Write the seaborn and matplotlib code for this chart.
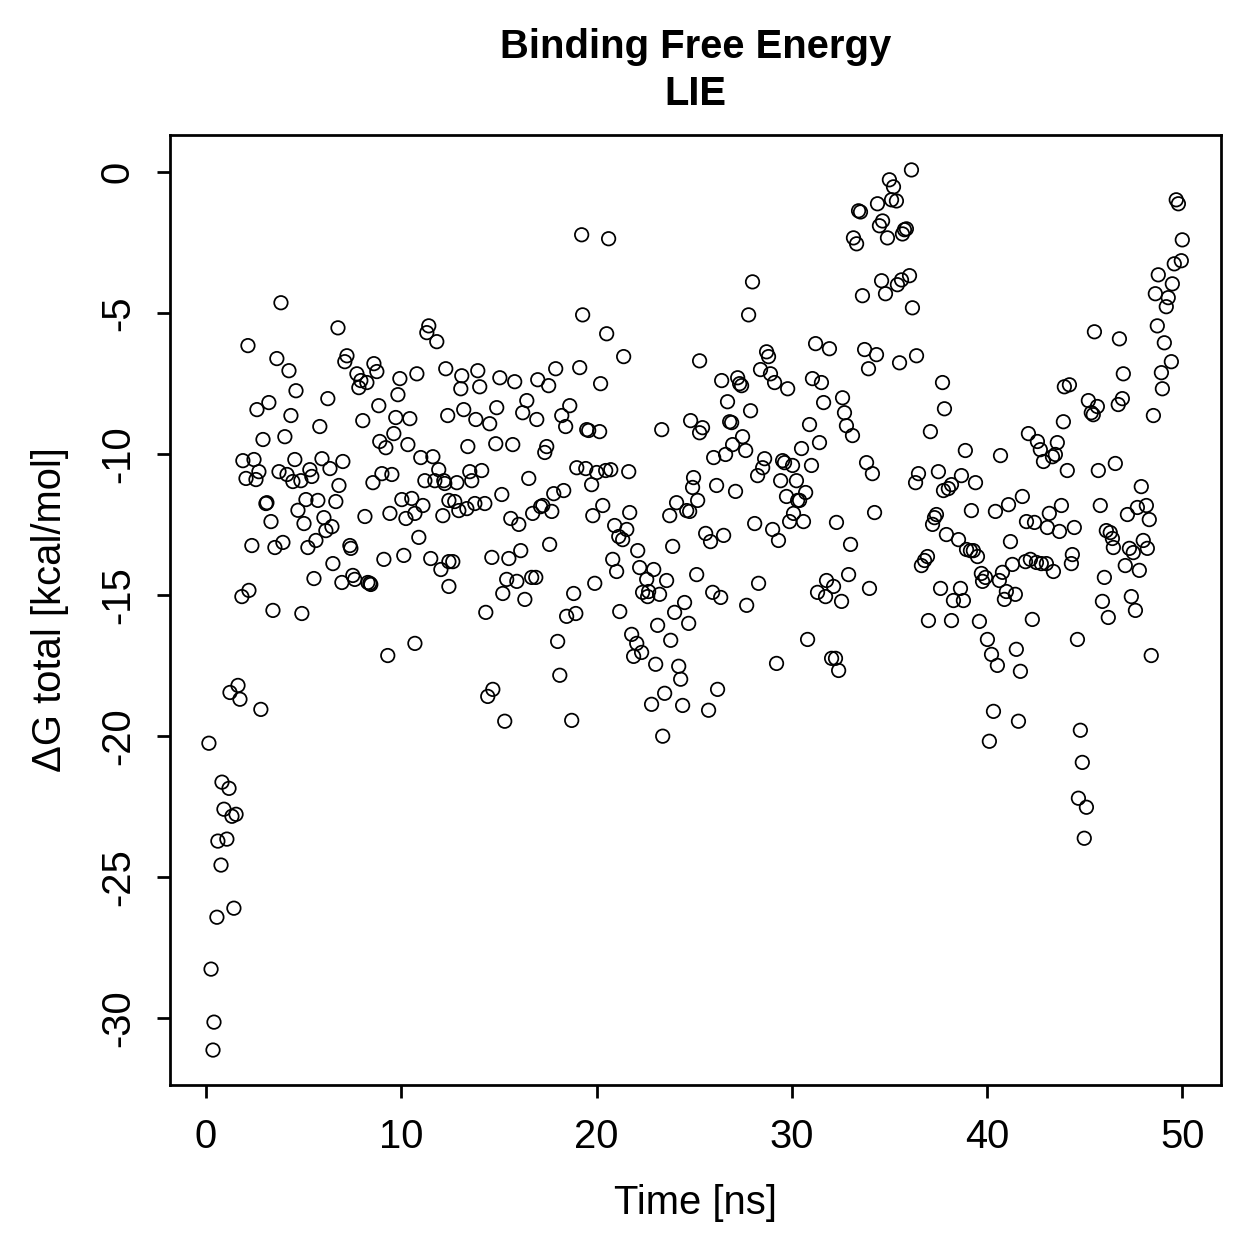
import matplotlib
matplotlib.use("Agg")
import matplotlib.pyplot as plt
import numpy as np
import pandas as pd
import seaborn as sns

# values (time in ns, dG in kcal/mol)
TIME_NS = [
    3.84, 6.76, 2.15, 11.41, 11.31, 11.82, 3.63, 4.25, 7.22, 7.11, 8.60, 8.75, 7.73, 7.93, 8.24, 7.83,
    9.93, 10.80, 12.28, 4.61, 9.83, 6.24, 3.22, 2.61, 8.85, 4.35, 12.38, 9.72, 10.44, 8.03, 5.83, 4.04,
    2.92, 9.62, 8.90, 9.21, 10.34, 1.89, 2.46, 2.71, 2.05, 2.56, 4.55, 5.94, 7.01, 6.35, 3.74, 4.15,
    5.32, 5.42, 4.45, 4.86, 6.81, 8.55, 9.01, 9.52, 11.00, 11.62, 11.92, 11.21, 11.72, 12.18,
    3.07, 3.12, 3.33, 2.35, 3.53, 3.94, 5.12, 5.73, 4.71, 5.02, 6.65, 6.04, 6.45, 6.14, 5.63, 5.22,
    8.14, 7.37, 7.42, 6.50, 5.53, 7.52, 7.62, 6.96, 8.29, 8.39, 8.44, 9.11, 9.42, 10.13, 10.03, 10.54,
    11.11, 10.70, 10.24, 10.90, 12.13, 11.51, 12.03, 12.44, 12.44, 12.44, 2.20, 1.84, 3.43, 4.91, 9.31,
    10.70, 1.64, 1.23, 1.74, 2.81, 0.15,
    0.82, 1.18, 0.92, 1.33, 1.54, 0.61, 1.07, 0.77, 1.43, 0.56, 0.26, 0.41, 0.36,
    19.24, 20.62, 19.29, 20.52, 21.39, 13.10, 13.92, 13.05, 14.02, 15.05, 15.81, 16.99, 17.55, 17.91,
    19.14, 20.21, 25.28, 16.43, 16.22, 14.89, 13.20, 13.82, 14.53, 16.94, 18.22, 18.63, 18.42, 19.50,
    19.60, 20.16, 23.34, 24.82, 25.28, 13.41, 14.84, 15.71, 17.45, 17.35, 13.51, 14.12, 13.61, 12.85,
    16.53, 18.99, 19.45, 20.01, 20.47, 20.73, 21.65, 19.75, 24.97,
    12.23, 15.15, 17.81, 18.32, 20.32, 19.81, 21.70, 12.74, 12.95, 13.36, 13.77, 14.28, 15.61, 16.02,
    16.73, 17.14, 17.25, 17.71, 20.93, 21.55, 21.14, 21.34, 22.11, 23.75, 24.10, 24.62, 24.92, 25.18,
    23.90, 12.64, 14.64, 15.51, 16.12, 17.60, 15.40, 15.92, 16.68, 16.89, 15.20, 16.33, 14.33, 18.83,
    19.91, 18.47, 18.94, 20.83, 21.03, 22.21, 22.93, 22.57, 23.59, 22.36, 22.67, 22.62, 23.23, 25.13,
    24.51, 24.00, 24.72, 21.19, 23.13, 23.80, 21.80, 22.06, 22.31, 21.90, 18.01, 18.12, 23.03, 24.21,
    24.31, 23.49, 22.82, 24.41, 14.69, 14.43, 15.30, 18.73, 23.39,
    36.13, 35.00, 35.21, 35.11, 35.36, 34.39, 33.42, 33.52, 34.65, 34.49, 34.90, 35.77, 35.87, 35.67,
    33.16, 33.32, 27.99, 34.60, 35.41, 35.62, 36.03, 33.62, 34.80, 36.18, 27.79, 31.22, 31.93, 33.73,
    34.34, 33.93, 35.52, 36.39, 28.71, 28.81, 28.40, 28.91, 29.12, 29.79, 26.41, 27.23, 27.33, 27.43,
    26.71, 27.89, 31.06, 31.52, 32.60, 32.70, 32.80, 33.11, 31.63, 30.91, 31.42, 30.50, 37.72, 37.82,
    37.10, 25.43, 26.82, 26.92, 27.48, 26.97, 27.64, 26.00, 26.61, 28.61, 28.51, 28.25, 29.53, 29.63,
    30.04, 30.24, 31.01, 29.43, 33.83, 34.13, 36.49, 36.34, 37.51, 26.15,
    27.12, 30.71, 29.73, 30.30, 30.40, 37.77, 38.02, 24.77, 28.10, 29.02, 29.32, 30.09, 29.89, 30.60,
    32.29, 34.24, 33.01, 25.59, 25.84, 26.51, 37.41, 37.31, 37.21, 37.92, 36.95, 36.80, 36.64, 28.30,
    25.95, 26.36, 27.69, 31.78, 32.14, 31.32, 31.73, 32.55, 32.91, 33.98, 37.62, 37.00, 30.81, 29.22,
    32.04, 32.24, 32.40, 26.20, 25.74,
    49.69, 49.80, 50.00, 49.59, 49.95, 48.77, 49.49, 48.62, 49.28, 49.18, 48.72, 49.08, 49.44, 48.93,
    48.98, 48.52, 45.50, 46.78, 46.98, 43.96, 44.22, 46.93, 46.72, 45.19, 45.65, 45.34, 45.44, 43.91,
    42.12, 42.58, 42.73, 43.60, 42.89, 43.35, 43.50, 38.89, 40.69, 38.69, 38.18, 39.41, 44.11, 45.70,
    46.57, 47.90,
    45.80, 47.19, 47.70, 48.16, 48.31, 39.20, 40.43, 41.10, 41.81, 43.81, 43.19, 42.02, 42.43, 43.09,
    43.71, 44.47, 38.54, 41.20, 46.11, 46.31, 46.42, 46.47, 47.29, 47.49, 48.00, 48.21, 38.95, 39.15,
    39.30, 39.51, 41.30, 41.97, 42.22, 42.53, 42.78, 43.04, 43.40, 44.37, 44.32, 46.01, 47.08, 47.80,
    39.71, 39.92, 39.77, 40.79, 40.63, 38.64, 38.28, 38.79, 40.99, 41.45, 40.89, 45.91, 47.39, 47.60,
    46.21, 38.18, 39.61, 42.32, 44.63, 40.02, 40.23, 40.53, 41.50, 41.71, 48.41, 40.33, 41.61, 40.12,
    44.78, 44.88, 44.68, 45.09, 44.98,
]

DG_TOTAL = [
    -4.64, -5.53, -6.16, -5.46, -5.70, -6.02, -6.62, -7.05, -6.52, -6.73, -6.80, -7.08, -7.16, -7.40, -7.47, -7.65,
    -7.33, -7.16, -6.98, -7.76, -7.90, -8.04, -8.18, -8.43, -8.29, -8.64, -8.64, -8.71, -8.75, -8.82, -9.03, -9.39,
    -9.49, -9.28, -9.56, -9.78, -9.67, -10.24, -10.20, -10.63, -10.87, -10.91, -10.20, -10.17, -10.27, -10.52, -10.63, -10.73,
    -10.56, -10.80, -10.98, -10.95, -11.12, -11.02, -10.70, -10.73, -10.13, -10.10, -10.56, -10.95, -10.95, -10.95,
    -11.76, -11.73, -12.40, -13.25, -13.32, -13.14, -11.62, -11.65, -12.00, -12.47, -11.69, -12.26, -12.58, -12.72, -13.07, -13.32,
    -12.22, -13.25, -13.35, -13.89, -14.42, -14.31, -14.45, -14.56, -14.56, -14.59, -14.63, -13.74, -12.11, -13.60, -11.62, -11.58,
    -11.83, -12.11, -12.29, -12.96, -12.19, -13.71, -14.10, -13.82, -14.70, -11.65, -14.84, -15.06, -15.55, -15.66, -17.15,
    -16.72, -18.21, -18.46, -18.70, -19.06, -20.26,
    -21.64, -21.86, -22.60, -22.85, -22.78, -23.73, -23.66, -24.58, -26.11, -26.43, -28.27, -30.15, -31.14,
    -2.23, -2.37, -5.07, -5.74, -6.55, -7.23, -7.05, -7.69, -7.62, -7.30, -7.44, -7.37, -7.58, -6.98,
    -6.94, -7.51, -6.70, -8.11, -8.54, -8.36, -8.43, -8.78, -8.93, -8.78, -8.64, -8.29, -9.03, -9.14,
    -9.17, -9.21, -9.14, -8.82, -9.25, -9.74, -9.64, -9.67, -9.74, -9.95, -10.63, -10.59, -10.95, -11.02,
    -10.87, -10.49, -10.52, -10.66, -10.59, -10.56, -10.63, -11.09, -10.84,
    -11.05, -11.44, -11.41, -11.30, -11.83, -12.19, -12.08, -11.69, -12.01, -11.94, -11.76, -11.76, -12.29, -12.50,
    -12.11, -11.87, -11.83, -12.04, -12.54, -12.68, -12.93, -13.04, -13.43, -12.19, -11.73, -12.01, -11.19, -11.65,
    -13.28, -13.82, -13.67, -13.71, -13.43, -13.21, -14.45, -14.52, -14.38, -14.38, -14.95, -15.16, -15.62, -14.95,
    -14.59, -15.76, -15.66, -13.74, -14.17, -14.03, -14.10, -14.45, -14.49, -14.91, -14.88, -15.06, -14.98, -14.28,
    -15.27, -15.62, -16.01, -15.59, -16.08, -16.61, -16.40, -16.72, -17.04, -17.18, -16.65, -17.85, -17.46, -17.53,
    -17.99, -18.49, -18.88, -18.92, -18.35, -18.60, -19.48, -19.45, -20.01,
    0.07, -0.28, -0.53, -0.99, -1.03, -1.13, -1.38, -1.42, -1.74, -1.91, -2.34, -2.05, -2.02, -2.20,
    -2.34, -2.55, -3.90, -3.86, -4.00, -3.83, -3.68, -4.39, -4.32, -4.82, -5.07, -6.09, -6.27, -6.30,
    -6.48, -6.98, -6.77, -6.52, -6.38, -6.55, -7.01, -7.16, -7.47, -7.69, -7.40, -7.30, -7.51, -7.58,
    -8.15, -8.47, -7.33, -7.47, -8.01, -8.54, -9.00, -9.35, -8.18, -8.96, -9.60, -9.81, -7.47, -8.40,
    -9.21, -9.07, -8.86, -8.89, -9.39, -9.67, -9.88, -10.13, -10.02, -10.17, -10.49, -10.77, -10.24, -10.31,
    -10.41, -10.95, -10.41, -10.95, -10.31, -10.70, -10.70, -11.02, -10.63, -11.12,
    -11.33, -11.37, -11.51, -11.65, -11.65, -11.30, -11.23, -12.04, -12.47, -12.68, -13.07, -12.11, -12.40, -12.40,
    -12.43, -12.08, -13.21, -12.82, -13.11, -12.89, -12.15, -12.26, -12.50, -12.86, -13.64, -13.78, -13.96, -14.59,
    -14.91, -15.09, -15.37, -14.49, -14.70, -14.91, -15.06, -15.23, -14.28, -14.77, -14.77, -15.91, -16.58, -17.43,
    -17.25, -17.25, -17.68, -18.35, -19.09,
    -0.99, -1.13, -2.41, -3.26, -3.15, -3.65, -3.97, -4.32, -4.46, -4.78, -5.46, -6.06, -6.73, -7.12,
    -7.69, -8.64, -5.67, -5.92, -7.16, -7.62, -7.55, -8.04, -8.25, -8.11, -8.32, -8.54, -8.61, -8.86,
    -9.28, -9.56, -9.85, -9.60, -10.27, -10.10, -10.02, -9.88, -10.06, -10.77, -11.09, -11.02, -10.59, -10.59,
    -10.34, -11.16,
    -11.83, -12.15, -11.90, -11.83, -12.33, -12.01, -12.04, -11.80, -11.51, -11.83, -12.11, -12.40, -12.43, -12.61,
    -12.75, -12.61, -13.04, -13.11, -12.72, -12.79, -13.00, -13.32, -13.35, -13.50, -13.07, -13.35, -13.39, -13.43,
    -13.43, -13.64, -13.92, -13.82, -13.74, -13.85, -13.89, -13.89, -14.17, -13.57, -13.89, -14.38, -13.96, -14.13,
    -14.24, -14.38, -14.52, -14.20, -14.49, -14.77, -15.20, -15.20, -14.88, -14.98, -15.16, -15.23, -15.06, -15.55,
    -15.80, -15.91, -15.94, -15.87, -16.58, -16.58, -17.11, -17.50, -16.93, -17.71, -17.15, -19.13, -19.48, -20.19,
    -19.80, -20.94, -22.21, -22.53, -23.63,
]

TITLE = "Binding Free Energy\nLIE"
X_LABEL = "Time [ns]"
Y_LABEL = "\u0394G total [kcal/mol]"
X_TICKS = [0, 10, 20, 30, 40, 50]
Y_TICKS = [0, -5, -10, -15, -20, -25, -30]

DPI = 180
SIZE_PX = 1259


def r_limits(values, frac=0.04):
    # base R style axis range: data range plus 4 % on each side
    lo, hi = min(values), max(values)
    pad = (hi - lo) * frac
    return lo - pad, hi + pad


def main() -> None:
    sns.set_style("ticks")
    plt.rcParams["font.family"] = ["Liberation Sans", "DejaVu Sans"]
    plt.rcParams.update({
        "font.size": 16,
        "text.color": "black",
        "axes.labelcolor": "black",
        "xtick.color": "black",
        "ytick.color": "black",
    })

    df = pd.DataFrame({"time": TIME_NS, "dg": DG_TOTAL})

    fig = plt.figure(figsize=(SIZE_PX / DPI, SIZE_PX / DPI), dpi=DPI)
    ax = fig.add_axes([0.135, 0.138, 0.835, 0.755])

    sns.scatterplot(
        data=df,
        x="time",
        y="dg",
        ax=ax,
        marker="o",
        s=29,
        facecolors="none",
        edgecolor="black",
        linewidth=0.7,
        legend=False,
    )

    ax.set_xlim(*r_limits(TIME_NS))
    ax.set_ylim(*r_limits(DG_TOTAL))
    ax.set_xticks(X_TICKS)
    ax.set_yticks(Y_TICKS)
    ax.set_xticklabels([str(t) for t in X_TICKS])
    ax.set_yticklabels([str(t) for t in Y_TICKS])
    plt.setp(ax.get_yticklabels(), rotation=90, va="center")

    for side in ["top", "right", "bottom", "left"]:
        ax.spines[side].set_visible(True)
        ax.spines[side].set_color("black")
        ax.spines[side].set_linewidth(1.1)

    ax.tick_params(direction="out", length=5.2, width=1.1, colors="black",
                   labelsize=16, pad=8)

    ax.set_xlabel(X_LABEL, fontsize=16, labelpad=11, color="black")
    ax.set_ylabel(Y_LABEL, fontsize=16, labelpad=12, color="black")
    ax.set_title(TITLE, fontsize=16, fontweight="bold", pad=12, linespacing=1.3,
                 color="black")

    fig.savefig("out.png", dpi=DPI)


if __name__ == "__main__":
    main()
